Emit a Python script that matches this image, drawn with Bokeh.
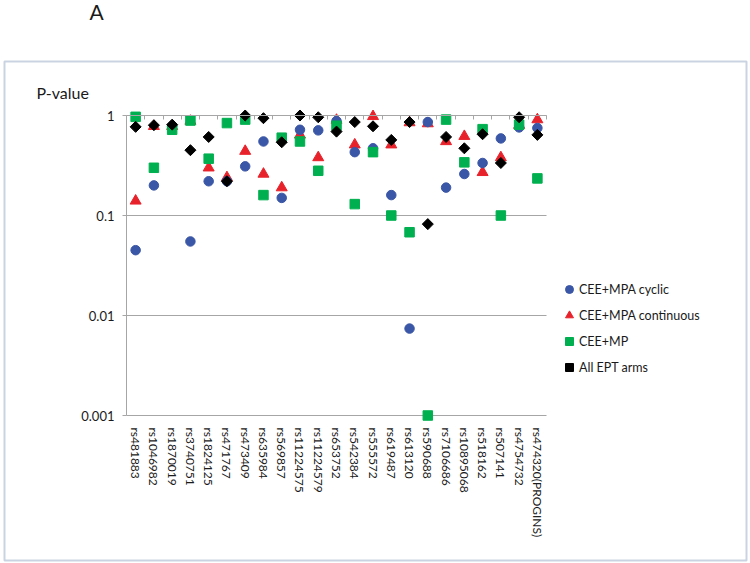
import numpy as np
from bokeh.plotting import figure
from bokeh.models import (Range1d, FixedTicker, NumeralTickFormatter, BoxAnnotation,
                          LinearAxis, Legend, LegendItem, Label, CustomJSTickFormatter)
from bokeh.embed import file_html
from bokeh.resources import INLINE

# ---- data ----
snps = ["rs481883", "rs1046982", "rs1870019", "rs3740751", "rs1824125", "rs471767",
        "rs473409", "rs635984", "rs569857", "rs11224575", "rs11224579", "rs653752",
        "rs542384", "rs555572", "rs619487", "rs613120", "rs590688", "rs7106686",
        "rs10895068", "rs518162", "rs507141", "rs4754732", "rs474320(PROGINS)"]

cyclic = [0.045, 0.20, 0.78, 0.055, 0.22, 0.22, 0.31, 0.55, 0.15, 0.72, 0.71, 0.88,
          0.43, 0.47, 0.16, 0.0074, 0.86, 0.19, 0.26, 0.335, 0.59, 0.76, 0.75]
continuous = [0.14, 0.78, 0.78, 0.88, 0.30, 0.24, 0.44, 0.26, 0.19, 0.64, 0.38, 0.90,
              0.51, 0.98, 0.51, 0.85, 0.83, 0.55, 0.62, 0.27, 0.38, 0.80, 0.91]
cee_mp = [0.97, 0.30, 0.72, 0.89, 0.37, 0.84, 0.91, 0.16, 0.60, 0.55, 0.28, 0.79,
          0.13, 0.43, 0.10, 0.068, 0.001, 0.91, 0.34, 0.73, 0.10, 0.81, 0.235]
all_ept = [0.77, 0.80, 0.81, 0.45, 0.61, 0.22, 1.0, 0.94, 0.54, 1.0, 0.96, 0.69,
           0.86, 0.78, 0.57, 0.86, 0.082, 0.61, 0.47, 0.65, 0.335, 0.96, 0.64]

series_names = ["CEE+MPA cyclic", "CEE+MPA continuous", "CEE+MP", "All EPT arms"]
y_ticks = [0.001, 0.01, 0.1, 1]
y_min, y_max = 0.001, 1

FONT = "Lato"
GRID = "#a6a6a6"
TXT = "#1a1a1a"

n = len(snps)
xpos = list(range(n))
x_lo, x_hi = -0.5, n - 0.5

# whole canvas is the frame; ranges chosen so the data box sits where the reference has it
W, H = 750, 563
p = figure(x_range=Range1d(-7.400, 33.671), y_range=Range1d(10 ** -4.48, 10 ** 1.15),
           y_axis_type="log", width=W, height=H, output_backend="svg", toolbar_location=None)
p.min_border = 0
p.min_border_left = p.min_border_right = p.min_border_top = p.min_border_bottom = 0
p.title.visible = False
p.outline_line_color = None
p.xgrid.grid_line_color = None
p.ygrid.grid_line_color = None

# horizontal gridlines limited to the plot area
grid = p.segment(x0=[x_lo] * len(y_ticks), x1=[x_hi] * len(y_ticks), y0=y_ticks, y1=y_ticks,
                 line_color=GRID, line_width=1)

ya = p.yaxis[0]
ya.fixed_location = x_lo
ya.bounds = (y_min, y_max)
ya.ticker = FixedTicker(ticks=y_ticks, minor_ticks=[])
ya.formatter = NumeralTickFormatter(format="0.[000]")
ya.major_tick_in = 0
ya.major_tick_out = 4
ya.minor_tick_line_color = None
ya.axis_line_color = GRID
ya.major_tick_line_color = GRID
ya.major_label_standoff = 8
ya.major_label_text_font = FONT
ya.major_label_text_font_size = "13px"
ya.major_label_text_color = TXT

xa = p.xaxis[0]
xa.fixed_location = y_min
xa.ticker = FixedTicker(ticks=xpos, minor_ticks=[])
xa.major_label_overrides = {i: s for i, s in zip(xpos, snps)}
xa.axis_line_color = None
xa.major_tick_line_color = None
xa.minor_tick_line_color = None
xa.major_tick_out = 0
xa.major_tick_in = 0
xa.major_label_orientation = "vertical"
xa.major_label_standoff = 12
xa.major_label_text_font = FONT
xa.major_label_text_font_size = "12px"
xa.major_label_text_color = TXT

# category axis line at P=1 with tick marks between categories
top = LinearAxis(fixed_location=y_max, bounds=(x_lo, x_hi),
                 ticker=FixedTicker(ticks=[i + 0.5 for i in xpos], minor_ticks=[]),
                 formatter=CustomJSTickFormatter(code="return ''"),
                 major_tick_in=4, major_tick_out=0, minor_tick_line_color=None,
                 axis_line_color=GRID, major_tick_line_color=GRID)
p.add_layout(top, "above")

r_red = p.scatter(xpos, continuous, marker="triangle", size=11, color="#e8222b")
r_blue = p.scatter(xpos, cyclic, marker="circle", size=9.5, color="#3a56a6")
r_green = p.scatter(xpos, cee_mp, marker="square", size=9.5, color="#00b050")
r_black = p.scatter(xpos, all_ept, marker="square", angle=np.pi / 4, size=7.8, color="black")

legend = Legend(items=[LegendItem(label=series_names[0], renderers=[r_blue]),
                       LegendItem(label=series_names[1], renderers=[r_red]),
                       LegendItem(label=series_names[2], renderers=[r_green]),
                       LegendItem(label=series_names[3], renderers=[r_black])],
                location=(559, 186), label_text_font=FONT, label_text_font_size="12.5px",
                label_text_color=TXT,
                glyph_width=20, glyph_height=20, label_height=20, label_standoff=0,
                spacing=6, padding=5, margin=0, border_line_color=None,
                background_fill_alpha=0)
p.add_layout(legend)

p.add_layout(Label(x=x_lo, y=y_max, x_offset=-90, y_offset=23, text="P-value", text_font=FONT,
                   text_font_size="16px", text_baseline="middle", text_color=TXT))
p.add_layout(Label(x=x_lo, y=y_max, x_offset=-37, y_offset=104, text="A", text_font=FONT,
                   text_font_size="21px", text_baseline="middle", text_color=TXT))

# outer chart-area border
p.add_layout(BoxAnnotation(left=4, right=746, top=61, bottom=560,
                           left_units="canvas", right_units="canvas",
                           top_units="canvas", bottom_units="canvas",
                           fill_color=None, line_color="#4f6e9c", line_width=2))

open("out.html", "w").write(file_html(p, INLINE))
